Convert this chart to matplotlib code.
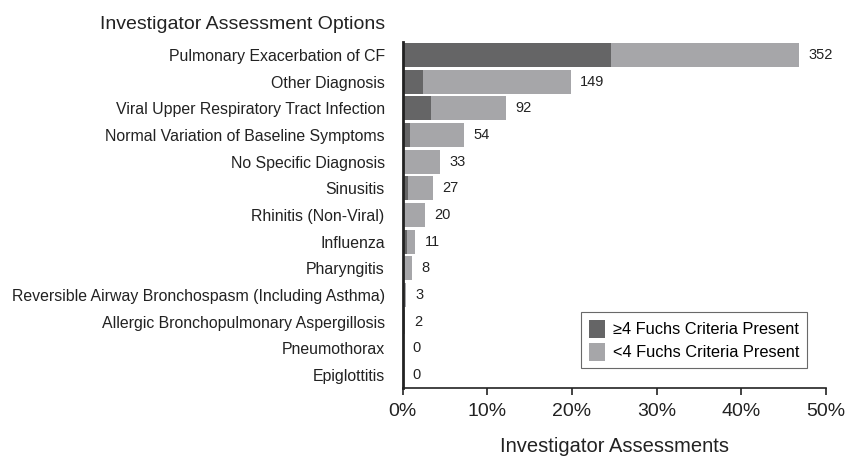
import matplotlib
matplotlib.use("Agg")
import matplotlib.pyplot as plt
import numpy as np

plt.rcParams['font.family'] = ['Liberation Sans', 'DejaVu Sans']

categories = ["Pulmonary Exacerbation of CF", "Other Diagnosis",
              "Viral Upper Respiratory Tract Infection",
              "Normal Variation of Baseline Symptoms", "No Specific Diagnosis",
              "Sinusitis", "Rhinitis (Non-Viral)", "Influenza", "Pharyngitis",
              "Reversible Airway Bronchospasm (Including Asthma)",
              "Allergic Bronchopulmonary Aspergillosis", "Pneumothorax",
              "Epiglottitis"]
total_counts = [352, 149, 92, 54, 33, 27, 20, 11, 8, 3, 2, 0, 0]
fuchs4_counts = [185, 18, 25, 6, 0, 5, 0, 4, 0, 0, 0, 0, 0]
xticks = [0, 10, 20, 30, 40, 50]

total = np.array(total_counts, dtype=float)
dark = np.array(fuchs4_counts, dtype=float)
n_all = total.sum()
pct_total = total / n_all * 100
pct_dark = dark / n_all * 100
pct_light = pct_total - pct_dark

fig = plt.figure(figsize=(8.48, 4.61), dpi=100)
ax = fig.add_axes([0.475, 0.1584, 0.499, 0.7512])

y = np.arange(len(categories))
ax.barh(y, pct_dark, height=0.9, color='#656566', label='\u22654 Fuchs Criteria Present')
ax.barh(y, pct_light, left=pct_dark, height=0.9, color='#a6a6a9', label='<4 Fuchs Criteria Present')

for yi, p, c in zip(y, pct_total, total_counts):
    ax.text(p + 1.1, yi, str(c), va='center', ha='left', fontsize=10.5, color='#222222')

ax.set_ylim(12.49, -0.5)
ax.set_xlim(0, 50)
ax.set_yticks(y)
ax.set_yticklabels(categories, fontsize=11.4, color='#222222')
ax.tick_params(axis='y', length=0, pad=13)
ax.set_xticks(xticks)
ax.set_xticklabels([f"{t}%" for t in xticks], fontsize=14, color='#222222')
ax.tick_params(axis='x', length=5, width=1.2, color='#222222', pad=6)

for s in ['top', 'right']:
    ax.spines[s].set_visible(False)
ax.spines['left'].set_linewidth(2)
ax.spines['left'].set_color('#222222')
ax.spines['bottom'].set_linewidth(1.2)
ax.spines['bottom'].set_color('#222222')

ax.set_xlabel("Investigator Assessments", fontsize=14.5, color='#222222', labelpad=12)
fig.text(0.118, 0.965, "Investigator Assessment Options", fontsize=14,
         color='#222222', va='top', ha='left')

leg = ax.legend(loc='lower right', bbox_to_anchor=(0.955, 0.058), fontsize=11.8,
                frameon=True, fancybox=False, edgecolor='#444444',
                handlelength=1.0, handleheight=1.3, borderpad=0.45,
                labelspacing=0.3, handletextpad=0.5, borderaxespad=0)
leg.get_frame().set_linewidth(0.8)

fig.savefig("out.png", dpi=100)
